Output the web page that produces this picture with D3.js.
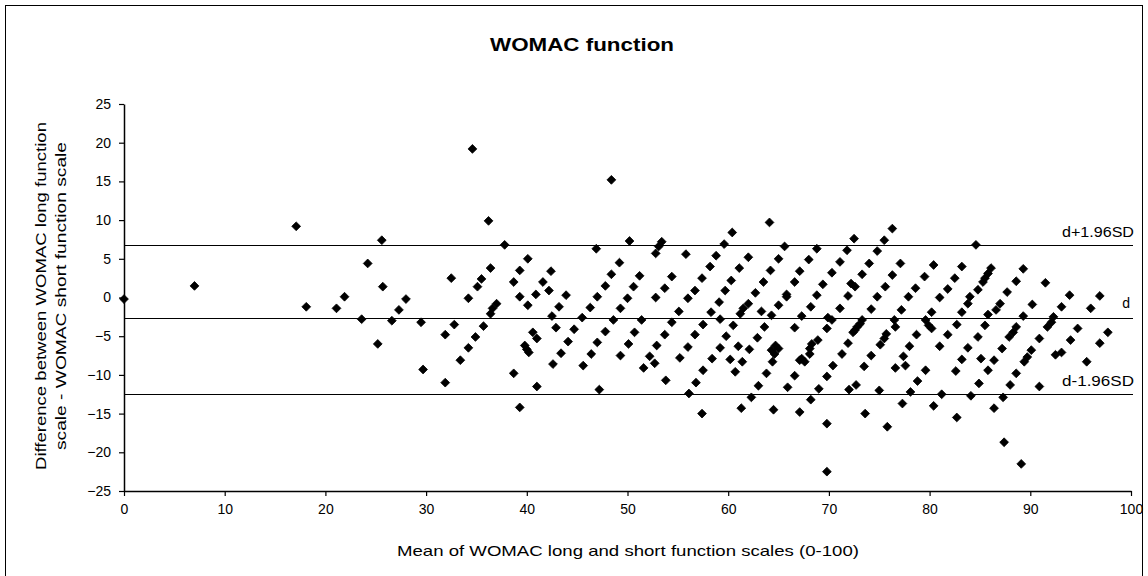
<!DOCTYPE html>
<html><head><meta charset="utf-8">
<script src="https://cdn.jsdelivr.net/npm/d3@7"></script>
<style>body{margin:0;background:#fff;}text{font-family:Arial,"Liberation Sans",sans-serif;}</style>
</head><body><svg id="c" width="1148" height="576"></svg>
<script>
const meanVals = [0.0,7.0,17.1,25.6,24.2,25.7,21.9,28.0,32.5,18.1,21.1,23.6,25.2,26.6,27.3,29.5,29.7,31.9,32.8,31.9,33.4,34.6,48.4,36.2,37.8,46.9,36.4,35.5,35.1,34.2,40.1,39.3,38.7,39.3,42.4,41.6,42.2,40.9,43.9,49.2,48.4,47.8,47.0,50.2,
37.0,36.6,36.4,35.7,34.9,34.2,40.1,40.6,41.0,39.8,40.0,40.2,38.7,41.0,39.3,42.9,42.5,43.2,44.7,44.1,43.4,42.6,45.5,46.3,47.8,47.0,46.4,45.6,47.2,48.6,49.3,49.3,50.1,
53.4,53.1,52.8,55.8,60.4,59.6,58.8,58.2,57.4,56.7,56.0,64.1,65.6,65.0,64.2,63.5,62.7,62.0,61.1,60.3,59.7,54.4,53.7,52.8,51.2,50.6,66.6,65.8,67.1,
50.0,59.1,55.1,58.3,51.4,54.4,57.5,59.2,60.5,50.7,53.7,56.7,59.8,52.9,56.0,59.2,61.0,62.1,52.2,52.7,55.2,58.4,60.2,61.4,51.6,57.5,60.7,53.8,56.8,56.1,57.4,61.3,62.3,63.0,63.8,64.4,64.5,64.3,64.7,65.0,64.6,62.9,63.6,64.3,63.3,61.2,61.5,62.0,65.0,65.8,66.6,66.6,65.9,67.1,67.1,
76.3,75.5,74.8,74.0,73.3,72.5,71.8,71.1,70.3,69.4,68.8,68.8,68.0,72.2,72.6,71.9,77.1,76.3,75.6,74.8,80.4,79.5,78.6,77.9,83.2,82.5,81.8,81.0,
68.2,71.1,74.2,77.2,80.2,83.2,67.3,69.9,70.3,69.8,73.3,73.1,72.8,72.6,72.4,76.5,76.6,79.6,79.9,80.2,82.7,68.9,68.3,68.1,71.9,75.7,75.5,75.1,78.7,78.0,81.8,81.0,83.8,67.3,67.6,68.1,71.3,74.2,77.4,83.2,70.4,73.5,76.6,77.6,79.6,82.6,69.8,78.8,72.7,72.0,69.0,75.0,78.1,81.2,68.2,77.3,80.4,73.6,69.8,75.8,82.7,69.8,
84.6,86.1,85.8,85.5,85.3,84.8,84.0,89.3,88.6,87.7,91.5,93.9,96.9,
83.8,87.0,86.6,90.2,93.1,96.0,85.8,89.3,92.3,92.1,91.7,85.5,88.6,88.3,87.9,94.7,97.7,84.8,90.9,94.0,96.9,87.2,90.1,93.1,92.5,89.7,89.4,95.6,85.1,86.4,85.8,88.6,84.9,88.0,90.9,84.1,87.3,86.4,87.4,89.1];
const diffVals = [-0.2,1.5,9.2,7.4,4.4,1.4,0.1,-0.2,2.5,-1.2,-1.4,-2.8,-6.0,-3.0,-1.6,-3.2,-9.3,-4.8,-3.5,-11.0,-8.1,19.2,15.2,9.9,6.8,6.3,3.8,2.4,1.4,-0.1,5.0,3.5,2.0,0.1,3.4,2.0,0.9,0.4,0.3,4.5,3.0,1.5,0.1,7.3,
-0.8,-1.4,-2.1,-3.7,-5.1,-6.5,-1.0,-4.5,-5.3,-6.2,-6.7,-7.1,-9.8,-11.5,-14.2,-3.9,-2.4,-1.2,-4.1,-5.7,-7.2,-8.6,-2.6,-1.3,-4.4,-5.8,-7.3,-8.8,-11.9,-2.9,-1.4,-7.5,-6.0,
7.2,6.6,5.7,5.6,8.4,6.9,5.4,4.0,2.5,0.9,-0.1,9.7,6.6,5.0,3.5,2.0,0.6,5.2,3.8,2.2,0.9,2.7,1.2,0.0,2.8,1.4,2.0,0.4,3.4,
-0.1,-0.6,-1.8,-1.9,-2.9,-3.2,-3.5,-2.8,-3.6,-4.5,-4.8,-4.8,-5.0,-6.2,-6.4,-6.5,-6.3,-6.7,-7.6,-8.5,-7.8,-7.9,-8.0,-8.3,-9.1,-9.4,-9.6,-10.7,-11.0,-12.4,-15.0,-14.3,-12.9,-11.4,-9.8,-8.3,-14.5,-6.8,-6.2,-6.6,-7.3,-5.2,-3.8,-2.3,-1.8,-2.1,-1.4,-0.8,-1.0,0.1,-3.9,-10.1,-11.6,-8.1,-14.8,
8.9,7.4,6.0,4.4,3.0,7.6,6.1,4.6,3.2,1.7,0.3,6.3,4.9,1.8,1.4,0.2,4.4,2.9,1.4,0.1,4.2,2.7,1.2,0.1,4.0,2.5,1.1,0.0,
-1.2,-1.4,-1.5,-1.6,-1.9,-1.9,-2.4,-2.6,-2.9,-4.0,-2.9,-3.4,-3.8,-4.2,-4.5,-2.9,-3.8,-2.9,-3.6,-4.0,-3.5,-5.5,-6.0,-6.6,-5.9,-4.7,-5.3,-6.1,-4.8,-6.3,-4.8,-6.3,-6.5,-7.9,-8.3,-7.3,-7.3,-7.5,-7.6,-8.0,-8.8,-8.9,-9.1,-8.8,-9.4,-9.5,-10.2,-10.8,-11.3,-11.9,-11.8,-12.0,-12.2,-12.5,-13.2,-13.7,-14.0,-15.0,-16.3,-16.7,-15.5,-22.5,
6.8,3.8,3.1,2.5,2.0,1.0,0.1,3.7,2.1,0.7,1.9,0.3,0.2,
-0.8,-0.8,-1.6,-0.9,-1.2,-1.4,-2.2,-2.4,-2.5,-3.2,-3.8,-3.6,-3.8,-4.5,-5.1,-4.0,-4.5,-5.1,-5.3,-5.5,-5.9,-6.6,-6.8,-7.1,-7.4,-7.7,-8.3,-8.3,-7.9,-8.1,-9.4,-9.8,-11.1,-11.3,-11.5,-12.7,-12.9,-14.3,-18.7,-21.5];
const refLines = [6.8, -2.7, -12.5];
const refLabels = ["d+1.96SD", "d", "d-1.96SD"];
const xTicks = [0,10,20,30,40,50,60,70,80,90,100];
const yTicks = [25,20,15,10,5,0,-5,-10,-15,-20,-25];
const titleText = "WOMAC function";
const xLabel = "Mean of WOMAC long and short function scales (0-100)";
const yLabel = ["Difference between WOMAC long function", "scale - WOMAC short function scale"];

const svg = d3.select("#c");
svg.append("rect").attr("x",5.5).attr("y",5.5).attr("width",1137).attr("height",600).attr("fill","none").attr("stroke","#000").attr("stroke-width",1);

const x = d3.scaleLinear().domain([0,100]).range([124,1131]);
const y = d3.scaleLinear().domain([-25,25]).range([491,104]);

svg.append("text").attr("x",582).attr("y",51).attr("text-anchor","middle").attr("font-size",19).attr("font-weight","bold")
  .attr("textLength",184).attr("lengthAdjust","spacingAndGlyphs").text(titleText);

// reference lines
refLines.forEach((v,i)=>{
  svg.append("line").attr("x1",x(0)).attr("x2",x(100)+2).attr("y1",Math.round(y(v))+0.5).attr("y2",Math.round(y(v))+0.5).attr("stroke","#000").attr("stroke-width",1.2);
});
svg.append("text").attr("x",1134).attr("y",y(refLines[0])-8).attr("text-anchor","end").attr("font-size",14).attr("textLength",72).attr("lengthAdjust","spacingAndGlyphs").text(refLabels[0]);
svg.append("text").attr("x",1130).attr("y",y(refLines[1])-10).attr("text-anchor","end").attr("font-size",14).text(refLabels[1]);
svg.append("text").attr("x",1134).attr("y",y(refLines[2])-8).attr("text-anchor","end").attr("font-size",14).attr("textLength",72).attr("lengthAdjust","spacingAndGlyphs").text(refLabels[2]);

// axes
const xAxis = d3.axisBottom(x).tickValues(xTicks).tickSize(5).tickSizeOuter(0).tickPadding(8);
const gx = svg.append("g").attr("transform",`translate(0,${y(-25)})`).call(xAxis);
const yAxis = d3.axisLeft(y).tickValues(yTicks).tickSize(5).tickSizeOuter(0).tickPadding(8);
const gy = svg.append("g").attr("transform",`translate(${x(0)},0)`).call(yAxis);
[gx,gy].forEach(g=>{
  g.selectAll("path.domain").attr("stroke","#000").attr("stroke-width",1.5);
  g.selectAll("line").attr("stroke","#000").attr("stroke-width",1.2);
  g.selectAll("text").attr("font-size",14).attr("fill","#000").attr("font-family","Arial, 'Liberation Sans', sans-serif");
});

svg.append("text").attr("x",628).attr("y",556).attr("text-anchor","middle").attr("font-size",15)
  .attr("textLength",462).attr("lengthAdjust","spacingAndGlyphs").text(xLabel);
const yl = svg.append("text").attr("transform",`translate(46,296) rotate(-90)`).attr("text-anchor","middle").attr("font-size",15);
yl.append("tspan").attr("x",0).attr("dy",0).attr("textLength",348).attr("lengthAdjust","spacingAndGlyphs").text(yLabel[0]);
yl.append("tspan").attr("x",0).attr("dy",20).attr("textLength",308).attr("lengthAdjust","spacingAndGlyphs").text(yLabel[1]);

// points
const pts = meanVals.map((m,i)=>({m, d: diffVals[i]}));
const diamond = "M0,-4.4L4.4,0L0,4.4L-4.4,0Z";
svg.append("g").selectAll("path").data(pts).join("path")
  .attr("d",diamond)
  .attr("transform",d=>`translate(${x(d.m)},${y(d.d)})`)
  .attr("fill","#000").attr("stroke","#000").attr("stroke-width",0.8);
</script></body></html>
